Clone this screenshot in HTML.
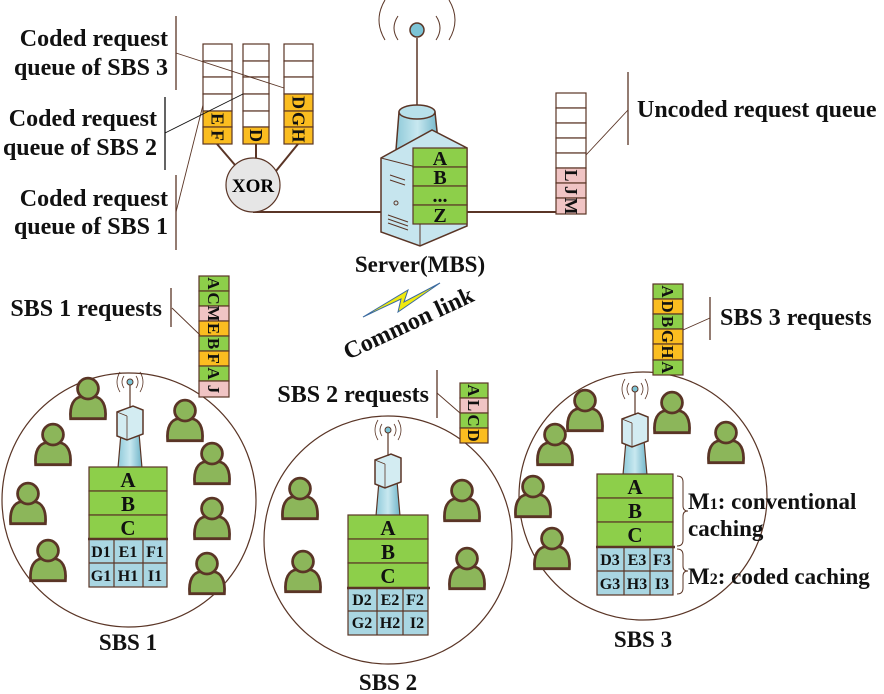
<!DOCTYPE html>
<html><head><meta charset="utf-8"><style>
html,body{margin:0;padding:0;background:#fff;}
svg{display:block;font-family:"Liberation Serif",serif;font-weight:bold;}
</style></head><body>
<svg width="884" height="694" viewBox="0 0 884 694" xmlns="http://www.w3.org/2000/svg">
<defs>
<symbol id="user" viewBox="-17 -20 34 38" overflow="visible">
<path d="M-15,16 C-16,4 -12,-2 -6,-3 L6,-3 C12,-2 16,4 15,16 Z" fill="#8cb65a" stroke="#5a3526" stroke-width="2.4"/>
<circle cx="0" cy="-10" r="9" fill="#8cb65a" stroke="#5a3526" stroke-width="2.4"/>
</symbol>
<linearGradient id="tw" x1="0" x2="1"><stop offset="0" stop-color="#8fcad9"/><stop offset="0.5" stop-color="#c8e8f0"/><stop offset="1" stop-color="#6fb4c8"/></linearGradient>
<symbol id="bs" viewBox="0 0 60 90" overflow="visible">
<path d="M18,90 L21,55 L39,55 L42,90 Z" fill="url(#tw)" stroke="#5a3526" stroke-width="1.2"/>
<path d="M17,34 L33,28 L43,32 L43,56 L27,62 L17,58 Z" fill="#d3ecf2" stroke="#5a3526" stroke-width="1.5"/>
<line x1="27" y1="38" x2="27" y2="62" stroke="#5a3526" stroke-width="0.8"/>
<line x1="17" y1="34" x2="27" y2="38" stroke="#5a3526" stroke-width="0.8"/>
<line x1="30" y1="30" x2="30" y2="5" stroke="#5a3526" stroke-width="1.2"/>
<circle cx="30" cy="4" r="3" fill="#7cc4d6" stroke="#5a3526"/>
<path d="M24,-2 Q20,4 24,10 M36,-2 Q40,4 36,10 M20,-6 Q14,4 20,14 M40,-6 Q46,4 40,14" fill="none" stroke="#5a3526" stroke-width="0.8"/>
</symbol>
</defs>

<circle cx="129" cy="500" r="127" fill="none" stroke="#5a3526" stroke-width="1.2"/>
<circle cx="388" cy="540" r="124" fill="none" stroke="#5a3526" stroke-width="1.2"/>
<circle cx="643" cy="496" r="124" fill="none" stroke="#5a3526" stroke-width="1.2"/>

<g>
<use href="#user" x="68" y="377" width="40" height="44"/>
<use href="#user" x="33" y="423" width="40" height="44"/>
<use href="#user" x="8" y="482" width="40" height="44"/>
<use href="#user" x="28" y="539" width="40" height="44"/>
<use href="#user" x="165" y="399" width="40" height="44"/>
<use href="#user" x="192" y="442" width="40" height="44"/>
<use href="#user" x="192" y="497" width="40" height="44"/>
<use href="#user" x="187" y="552" width="40" height="44"/>
<use href="#user" x="280" y="477" width="40" height="44"/>
<use href="#user" x="283" y="550" width="40" height="44"/>
<use href="#user" x="442" y="479" width="40" height="44"/>
<use href="#user" x="447" y="547" width="40" height="44"/>
<use href="#user" x="565" y="389" width="40" height="44"/>
<use href="#user" x="535" y="423" width="40" height="44"/>
<use href="#user" x="513" y="475" width="40" height="44"/>
<use href="#user" x="532" y="527" width="40" height="44"/>
<use href="#user" x="652" y="391" width="40" height="44"/>
<use href="#user" x="706" y="421" width="40" height="44"/>
</g>

<use href="#bs" x="100" y="378" width="60" height="90"/>
<use href="#bs" x="358" y="426" width="60" height="90"/>
<use href="#bs" x="605" y="385" width="60" height="90"/>

<g stroke="#5a3526" stroke-width="1.2">
<rect x="89" y="467" width="78" height="24" fill="#8dcf4a"/><rect x="89" y="491" width="78" height="24" fill="#8dcf4a"/><rect x="89" y="515" width="78" height="24" fill="#8dcf4a"/>
<rect x="89" y="539" width="78" height="48" fill="#a9d6e2"/>
<line x1="89" y1="563" x2="167" y2="563"/><line x1="114" y1="539" x2="114" y2="587"/><line x1="143" y1="539" x2="143" y2="587"/>
<line x1="88" y1="539" x2="168" y2="539" stroke-width="2.5"/>
<rect x="348" y="515" width="80" height="24" fill="#8dcf4a"/><rect x="348" y="539" width="80" height="24" fill="#8dcf4a"/><rect x="348" y="563" width="80" height="25" fill="#8dcf4a"/>
<rect x="348" y="588" width="80" height="47" fill="#a9d6e2"/>
<line x1="348" y1="611" x2="428" y2="611"/><line x1="377" y1="588" x2="377" y2="635"/><line x1="403" y1="588" x2="403" y2="635"/>
<line x1="347" y1="588" x2="430" y2="588" stroke-width="2.5"/>
<rect x="597" y="474" width="76" height="24" fill="#8dcf4a"/><rect x="597" y="498" width="76" height="24" fill="#8dcf4a"/><rect x="597" y="522" width="76" height="25" fill="#8dcf4a"/>
<rect x="597" y="547" width="76" height="48" fill="#a9d6e2"/>
<line x1="597" y1="571" x2="673" y2="571"/><line x1="624" y1="547" x2="624" y2="595"/><line x1="650" y1="547" x2="650" y2="595"/>
<line x1="596" y1="547" x2="675" y2="547" stroke-width="2.5"/>
</g>
<g font-size="21" text-anchor="middle" fill="#111">
<text x="128" y="487">A</text><text x="128" y="511">B</text><text x="128" y="535">C</text>
<g font-size="16"><text x="101" y="557">D1</text><text x="128" y="557">E1</text><text x="155" y="557">F1</text>
<text x="101" y="581">G1</text><text x="128" y="581">H1</text><text x="155" y="581">I1</text></g>
<text x="388" y="535">A</text><text x="388" y="559">B</text><text x="388" y="583">C</text>
<g font-size="16"><text x="362" y="605">D2</text><text x="390" y="605">E2</text><text x="415" y="605">F2</text>
<text x="362" y="628">G2</text><text x="390" y="628">H2</text><text x="417" y="628">I2</text></g>
<text x="635" y="494">A</text><text x="635" y="518">B</text><text x="635" y="542">C</text>
<g font-size="16"><text x="610" y="565">D3</text><text x="637" y="565">E3</text><text x="662" y="565">F3</text>
<text x="610" y="589">G3</text><text x="637" y="589">H3</text><text x="662" y="589">I3</text></g>
</g>

<path d="M677,476 Q683,476 683,482 L683,506 Q683,511 688,511 Q683,511 683,516 L683,540 Q683,546 677,546" fill="none" stroke="#5a3526" stroke-width="1"/>
<path d="M677,549 Q683,549 683,555 L683,566 Q683,571 688,571 Q683,571 683,576 L683,588 Q683,594 677,594" fill="none" stroke="#5a3526" stroke-width="1"/>
<g font-size="23" fill="#111">
<text x="688" y="509">M<tspan font-size="16">1</tspan>: conventional</text>
<text x="688" y="536">caching</text>
<text x="688" y="584">M<tspan font-size="16">2</tspan>: coded caching</text>
</g>

<g font-size="23" text-anchor="middle" fill="#111">
<text x="128" y="650">SBS 1</text>
<text x="388" y="690">SBS 2</text>
<text x="643" y="647">SBS 3</text>
<text x="420" y="272">Server(MBS)</text>
</g>

<g stroke="#5a3526" stroke-width="1.5">
<path d="M385,40 Q373,20 385,0 M449,40 Q461,20 449,0" fill="none" stroke-width="1"/>
<path d="M398,40 Q390,28 398,16 M436,40 Q444,28 436,16" fill="none" stroke-width="1"/>
<line x1="417" y1="38" x2="417" y2="115"/>
<circle cx="417" cy="30" r="7" fill="#7cc4d6"/>
<path d="M399,112 L396,150 L439,150 L435,112 Z" fill="url(#tw)"/>
<ellipse cx="417" cy="112" rx="18" ry="7" fill="#b8e0ea"/>
<path d="M381,158 L432,130 L467,148 L467,226 L420,246 L381,232 Z" fill="#c6e5ee"/>
<line x1="381" y1="158" x2="420" y2="168" stroke-width="1"/>
<line x1="420" y1="168" x2="420" y2="246" stroke-width="1"/>
<line x1="390" y1="175" x2="405" y2="180" stroke-width="1"/>
<line x1="390" y1="180" x2="405" y2="185" stroke-width="1"/>
<circle cx="396" cy="203" r="2" fill="none" stroke-width="1"/>
<line x1="388" y1="215" x2="408" y2="222" stroke-width="1"/>
<line x1="388" y1="219" x2="408" y2="226" stroke-width="1"/>
<line x1="388" y1="223" x2="408" y2="230" stroke-width="1"/>
</g>
<g stroke="#5a3526" stroke-width="1.2">
<rect x="413" y="148" width="54" height="19" fill="#8dcf4a"/><rect x="413" y="167" width="54" height="19" fill="#8dcf4a"/>
<rect x="413" y="186" width="54" height="19" fill="#8dcf4a"/><rect x="413" y="205" width="54" height="19" fill="#8dcf4a"/>
</g>
<g font-size="20" text-anchor="middle" fill="#111">
<text x="440" y="165">A</text><text x="440" y="184">B</text><text x="440" y="202">...</text><text x="440" y="222">Z</text>
</g>

<g stroke="#5a3526" stroke-width="2">
<line x1="253" y1="212" x2="381" y2="212"/>
<line x1="467" y1="212" x2="556" y2="212"/>
<line x1="217" y1="144" x2="235" y2="165"/>
<line x1="256" y1="144" x2="256" y2="158"/>
<line x1="298" y1="144" x2="276" y2="171"/>
</g>
<circle cx="253" cy="185" r="27" fill="#e6e6e6" stroke="#5a3526" stroke-width="1.2"/>
<text x="253" y="192" font-size="19" text-anchor="middle">XOR</text>

<g stroke="#5a3526" stroke-width="1.2">
<rect x="203" y="44" width="29" height="17" fill="#fff"/><rect x="203" y="61" width="29" height="16" fill="#fff"/><rect x="203" y="77" width="29" height="17" fill="#fff"/><rect x="203" y="94" width="29" height="17" fill="#fff"/><rect x="203" y="111" width="29" height="16" fill="#fbbd20"/><rect x="203" y="127" width="29" height="17" fill="#fbbd20"/>
<rect x="243" y="44" width="26" height="17" fill="#fff"/><rect x="243" y="61" width="26" height="16" fill="#fff"/><rect x="243" y="77" width="26" height="17" fill="#fff"/><rect x="243" y="94" width="26" height="17" fill="#fff"/><rect x="243" y="111" width="26" height="16" fill="#fff"/><rect x="243" y="127" width="26" height="17" fill="#fbbd20"/>
<rect x="284" y="44" width="29" height="17" fill="#fff"/><rect x="284" y="61" width="29" height="16" fill="#fff"/><rect x="284" y="77" width="29" height="17" fill="#fff"/><rect x="284" y="94" width="29" height="17" fill="#fbbd20"/><rect x="284" y="111" width="29" height="16" fill="#fbbd20"/><rect x="284" y="127" width="29" height="17" fill="#fbbd20"/>
<rect x="556" y="93" width="30" height="15" fill="#fff"/><rect x="556" y="108" width="30" height="15" fill="#fff"/><rect x="556" y="123" width="30" height="15" fill="#fff"/><rect x="556" y="138" width="30" height="15" fill="#fff"/><rect x="556" y="153" width="30" height="15" fill="#fff"/>
<rect x="556" y="168" width="30" height="15" fill="#f0c4c4"/><rect x="556" y="183" width="30" height="15" fill="#f0c4c4"/><rect x="556" y="198" width="30" height="16" fill="#f0c4c4"/>
</g>

<g stroke="#5a3526" stroke-width="1.2">
<rect x="199" y="276" width="30" height="15" fill="#8dcf4a"/><rect x="199" y="291" width="30" height="15" fill="#8dcf4a"/><rect x="199" y="306" width="30" height="15" fill="#f0c4c4"/><rect x="199" y="321" width="30" height="15" fill="#fbbd20"/>
<rect x="199" y="336" width="30" height="15" fill="#8dcf4a"/><rect x="199" y="351" width="30" height="15" fill="#fbbd20"/><rect x="199" y="366" width="30" height="15" fill="#8dcf4a"/><rect x="199" y="381" width="30" height="16" fill="#f0c4c4"/>
<rect x="460" y="383" width="28" height="15" fill="#8dcf4a"/><rect x="460" y="398" width="28" height="15" fill="#f0c4c4"/><rect x="460" y="413" width="28" height="15" fill="#8dcf4a"/><rect x="460" y="428" width="28" height="15" fill="#fbbd20"/>
<rect x="653" y="284" width="30" height="15" fill="#8dcf4a"/><rect x="653" y="299" width="30" height="15" fill="#fbbd20"/><rect x="653" y="314" width="30" height="15" fill="#8dcf4a"/><rect x="653" y="329" width="30" height="15" fill="#fbbd20"/><rect x="653" y="344" width="30" height="16" fill="#fbbd20"/><rect x="653" y="360" width="30" height="15" fill="#8dcf4a"/>
</g>

<g font-size="18" fill="#111" text-anchor="middle">
<text transform="translate(217.5,119) rotate(90)" dy="6">E</text>
<text transform="translate(217.5,135.5) rotate(90)" dy="6">F</text>
<text transform="translate(256,135.5) rotate(90)" dy="6">D</text>
<text transform="translate(298.5,102.5) rotate(90)" dy="6">D</text>
<text transform="translate(298.5,119) rotate(90)" dy="6">G</text>
<text transform="translate(298.5,135.5) rotate(90)" dy="6">H</text>
<text transform="translate(571,175.5) rotate(90)" dy="6">L</text>
<text transform="translate(571,190.5) rotate(90)" dy="6">J</text>
<text transform="translate(571,206) rotate(90)" dy="6">M</text>
</g>
<g font-size="17" fill="#111" text-anchor="middle">
<text transform="translate(214,283.5) rotate(90)" dy="6">A</text>
<text transform="translate(214,298.5) rotate(90)" dy="6">C</text>
<text transform="translate(214,313.5) rotate(90)" dy="6">M</text>
<text transform="translate(214,328.5) rotate(90)" dy="6">E</text>
<text transform="translate(214,343.5) rotate(90)" dy="6">B</text>
<text transform="translate(214,358.5) rotate(90)" dy="6">F</text>
<text transform="translate(214,373.5) rotate(90)" dy="6">A</text>
<text transform="translate(214,389) rotate(90)" dy="6">J</text>
<text transform="translate(474,390.5) rotate(90)" dy="6">A</text>
<text transform="translate(474,405.5) rotate(90)" dy="6">L</text>
<text transform="translate(474,420.5) rotate(90)" dy="6">C</text>
<text transform="translate(474,435.5) rotate(90)" dy="6">D</text>
<text transform="translate(668,291.5) rotate(90)" dy="6">A</text>
<text transform="translate(668,306.5) rotate(90)" dy="6">D</text>
<text transform="translate(668,321.5) rotate(90)" dy="6">B</text>
<text transform="translate(668,336.5) rotate(90)" dy="6">G</text>
<text transform="translate(668,352) rotate(90)" dy="6">H</text>
<text transform="translate(668,367.5) rotate(90)" dy="6">A</text>
</g>

<g stroke="#5a3526" stroke-width="1.3">
<line x1="176" y1="16" x2="176" y2="90"/>
<line x1="176" y1="175" x2="176" y2="250"/>
<line x1="171" y1="288" x2="171" y2="327"/>
<line x1="628" y1="72" x2="628" y2="145"/>
<line x1="710" y1="297" x2="710" y2="340"/>
<line x1="437" y1="370" x2="437" y2="418"/>
</g>
<line x1="165" y1="97" x2="165" y2="170" stroke="#111" stroke-width="1.3"/>
<g stroke="#5a3526" stroke-width="0.9">
<line x1="176" y1="53" x2="284" y2="88"/>
<line x1="176" y1="212" x2="203" y2="105"/>
<line x1="172" y1="308" x2="200" y2="335"/>
<line x1="586" y1="155" x2="628" y2="110"/>
<line x1="683" y1="330" x2="710" y2="318"/>
<line x1="437" y1="393" x2="460" y2="413"/>
</g>
<line x1="165" y1="133" x2="243" y2="94" stroke="#111" stroke-width="0.9"/>

<g font-size="24" fill="#111" text-anchor="end">
<text x="168" y="46">Coded request</text>
<text x="168" y="75">queue of SBS 3</text>
<text x="157" y="126">Coded request</text>
<text x="157" y="155">queue of SBS 2</text>
<text x="168" y="206">Coded request</text>
<text x="168" y="234">queue of SBS 1</text>
<text x="162" y="316">SBS 1 requests</text>
<text x="429" y="402">SBS 2 requests</text>
</g>
<g font-size="24" fill="#111">
<text x="637" y="117">Uncoded request queue</text>
<text x="720" y="325">SBS 3 requests</text>
</g>

<path d="M363,317 L408,290 L404,302 L440,283 L398,312 L401,299 Z" fill="#f0ea10" stroke="#3a6aa0" stroke-width="1"/>
<text transform="translate(348,360) rotate(-25)" font-size="24" fill="#111">Common link</text>
</svg>
</body></html>
